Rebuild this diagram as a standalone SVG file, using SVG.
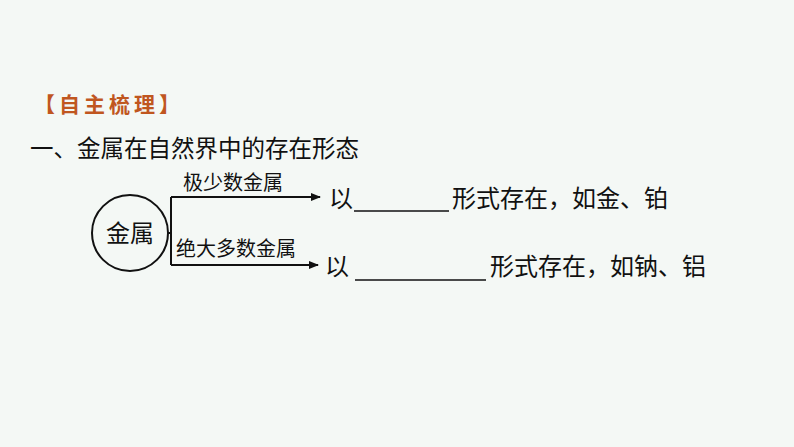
<svg xmlns="http://www.w3.org/2000/svg" width="794" height="447" viewBox="0 0 794 447">
<defs>
<style>
text{font-family:"Noto Sans CJK SC","Liberation Sans",sans-serif;fill:#111}
.t{font-size:23.5px}
.r{font-size:24px}
.s{font-size:20px}
.l{stroke:#111;stroke-width:2;fill:none}
</style>
<marker id="a" markerWidth="10" markerHeight="8" refX="9" refY="4" orient="auto" markerUnits="userSpaceOnUse"><path d="M0,0L10,4L0,8Z" fill="#111"/></marker>
</defs>
<rect width="794" height="447" fill="#f4f8f5"/>
<text x="34" y="112" font-size="21" font-weight="bold" style="fill:#c0561f" letter-spacing="4">【自主梳理】</text>
<text class="t" x="30" y="157">一、金属在自然界中的存在形态</text>
<g id="metal"><circle cx="130" cy="233" r="38" fill="none" stroke="#111" stroke-width="2"/><text class="r" x="130" y="242" text-anchor="middle">金属</text></g>
<g id="connectors">
<path class="l" d="M168,233H171M171,197V265"/>
<path class="l" d="M171,197H320" marker-end="url(#a)"/>
<path class="l" d="M171,265H318" marker-end="url(#a)"/>
</g>
<g id="lab1"><text class="s" x="183" y="190">极少数金属</text></g>
<g id="lab2"><text class="s" x="176" y="256">绝大多数金属</text></g>
<g id="r1"><text class="r" x="329" y="207">以</text><line x1="354" y1="211" x2="449" y2="211" stroke="#111" stroke-width="1.5"/><text class="r" x="452" y="207">形式存在，如金、铂</text></g>
<g id="r2"><text class="r" x="325" y="275">以</text><line x1="355" y1="280" x2="486" y2="280" stroke="#111" stroke-width="1.5"/><text class="r" x="490" y="275">形式存在，如钠、铝</text></g>
</svg>
